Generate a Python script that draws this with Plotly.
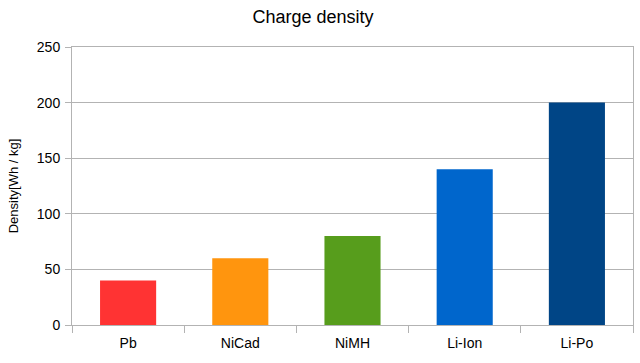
import plotly.graph_objects as go

categories = ["Pb", "NiCad", "NiMH", "Li-Ion", "Li-Po"]
density = [40, 60, 80, 140, 200]
colors = ["#ff3333", "#ff950e", "#579d1c", "#0066cc", "#004586"]
y_ticks = [0, 50, 100, 150, 200, 250]

fig = go.Figure(go.Bar(x=categories, y=density, marker=dict(color=colors, line=dict(width=0)),
                       width=0.5, hoverinfo="none"))

fig.update_layout(
    width=640, height=363,
    margin=dict(l=72, r=7, t=47, b=38, autoexpand=False),
    paper_bgcolor="white", plot_bgcolor="white",
    font=dict(family="Liberation Sans, Arial, sans-serif", color="#000000", size=14),
    title=dict(text="Charge density", x=0.489, xanchor="center", y=0.955, yanchor="middle",
               font=dict(size=18, color="#000000")),
    showlegend=False,
    bargap=0.5,
)
fig.update_xaxes(type="category", showline=True, linecolor="#b3b3b3", linewidth=1, mirror=True,
                 ticks="outside", tickson="boundaries", ticklen=7, tickcolor="#b3b3b3",
                 ticklabelstandoff=5,
                 showgrid=False, tickfont=dict(size=14), automargin=False)
fig.update_yaxes(range=[0, 250], tickvals=y_ticks, showline=True, linecolor="#b3b3b3", linewidth=1,
                 mirror=True, ticks="outside", ticklen=6, tickcolor="#b3b3b3",
                 showgrid=True, gridcolor="#b3b3b3", gridwidth=1, zeroline=False,
                 tickfont=dict(size=14), automargin=False, ticklabelstandoff=2,
                 title=dict(text="Density[Wh / kg]", font=dict(size=13), standoff=15))

post = ("document.body.style.margin='0';"
        "document.documentElement.style.overflow='hidden';"
        "document.body.style.overflow='hidden';")
fig.write_html("out.html", post_script=post,
               config={"responsive": False, "displayModeBar": False})
